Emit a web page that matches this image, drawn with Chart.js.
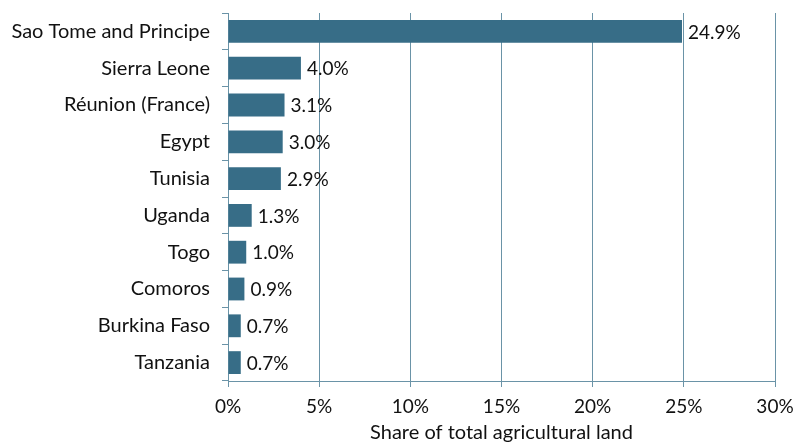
<!DOCTYPE html>
<html>
<head>
<meta charset="utf-8">
<script src="https://cdn.jsdelivr.net/npm/chart.js@4/dist/chart.umd.min.js"></script>
<style>
  html, body { margin: 0; padding: 0; background: #fff; overflow: hidden; }
  #wrap { width: 793px; height: 449px; }
</style>
</head>
<body>
<div id="wrap"><canvas id="chart"></canvas></div>
<script>
'use strict';

// countries and their share of total agricultural land (%)
const countries = ['Sao Tome and Principe', 'Sierra Leone', 'Réunion (France)', 'Egypt', 'Tunisia',
                   'Uganda', 'Togo', 'Comoros', 'Burkina Faso', 'Tanzania'];
const shares = [24.9, 4.0, 3.1, 3.0, 2.9, 1.3, 1.0, 0.9, 0.7, 0.7];
const xTicks = [0, 5, 10, 15, 20, 25, 30];

const FONT = 'Lato, "DejaVu Sans", sans-serif';
const BAR = '#376d87';
const GRID = '#6a93a7';

// подписи значений справа от столбцов
const valueLabels = {
    id: 'valueLabels',
    afterDatasetsDraw(chart) {
        const ctx = chart.ctx;
        const meta = chart.getDatasetMeta(0);
        ctx.save();
        ctx.font = '19px ' + FONT;
        ctx.fillStyle = '#111';
        ctx.textAlign = 'left';
        ctx.textBaseline = 'middle';
        meta.data.forEach((bar, i) => {
            ctx.fillText(shares[i].toFixed(1) + '%', bar.x + 6, bar.y + 1);
        });
        ctx.restore();
    }
};

const ctx = document.getElementById('chart').getContext('2d');
new Chart(ctx, {
    type: 'bar',
    data: {
        labels: countries,
        datasets: [{
            data: shares,
            backgroundColor: BAR,
            barPercentage: 0.62,
            categoryPercentage: 1
        }]
    },
    options: {
        indexAxis: 'y',
        responsive: true,
        maintainAspectRatio: false,
        animation: false,
        layout: { padding: { top: 13, right: 0, left: 0, bottom: 0 } },
        plugins: {
            legend: { display: false },
            tooltip: { enabled: false }
        },
        scales: {
            x: {
                min: 0,
                max: 30,
                afterBuildTicks(axis) {
                    axis.ticks = xTicks.map(v => ({ value: v }));
                },
                // фиксируем размеры оси, чтобы область графика совпала
                afterFit(axis) {
                    axis.height = 68;
                    axis.paddingLeft = 0;
                    axis.paddingRight = 18;
                },
                ticks: {
                    color: '#111',
                    font: { family: FONT, size: 19 },
                    padding: 8,
                    callback: v => v + '%'
                },
                grid: { color: GRID, lineWidth: 1, tickLength: 6 },
                border: { color: GRID, width: 1 },
                title: {
                    display: true,
                    text: 'Share of total agricultural land',
                    color: '#111',
                    font: { family: FONT, size: 20 },
                    padding: { top: 2, bottom: 4 }
                }
            },
            y: {
                afterFit(axis) {
                    axis.width = 228;
                    axis.paddingTop = 0;
                    axis.paddingBottom = 0;
                },
                ticks: {
                    color: '#111',
                    font: { family: FONT, size: 20 },
                    padding: 12
                },
                grid: { drawOnChartArea: false, color: GRID, tickLength: 6, offset: true },
                border: { color: GRID, width: 1 }
            }
        }
    },
    plugins: [valueLabels]
});
</script>
</body>
</html>
